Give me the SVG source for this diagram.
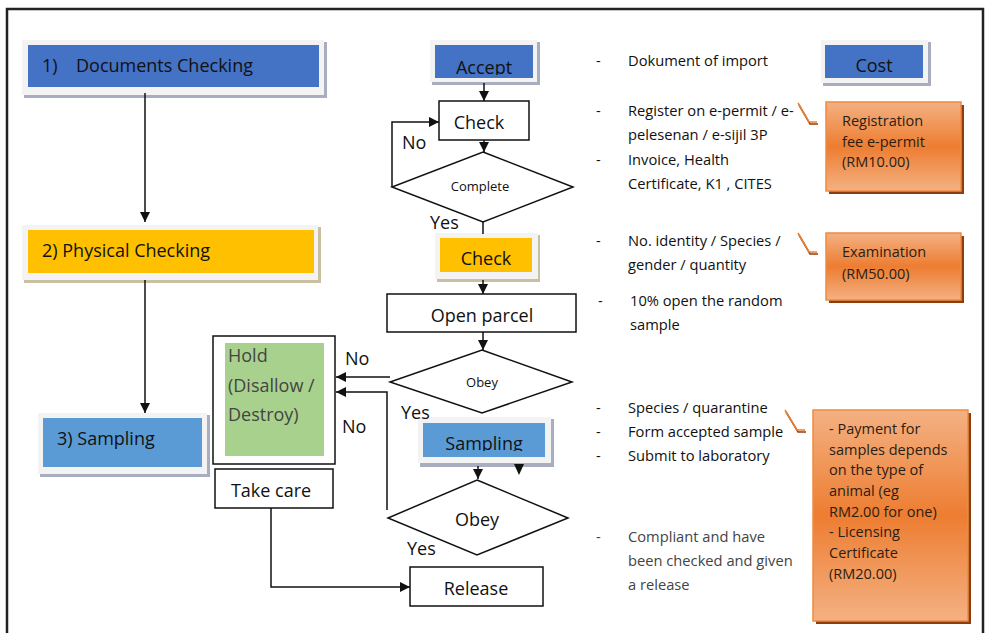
<svg xmlns="http://www.w3.org/2000/svg" width="990" height="633" viewBox="0 0 990 633">
<style>
text{font-family:"Open Sans","Liberation Sans",sans-serif;fill:#111}
.lbl{font-size:18px}
.sm{font-size:13px}
.note{font-size:14.7px}
.gray{fill:#444}
.box{fill:#fff;stroke:#111;stroke-width:1.5}
.frm{fill:#f3f3f3}
.shd{fill:#a8adbf}
.con{fill:none;stroke:#111;stroke-width:1.5}
.orng{fill:url(#og);stroke:#f08a42;stroke-width:1.5}
.osh{fill:#8a3f10}
.call{fill:none;stroke:#ed7d31;stroke-width:1.5}
.calls{fill:none;stroke:#8a3f10;stroke-width:1.5}
.otx{font-size:14.5px;fill:#2b1d12}
</style>
<defs>
<marker id="ah" markerUnits="userSpaceOnUse" markerWidth="10" markerHeight="10" refX="10" refY="5" orient="auto">
<path d="M0,0 L10,5 L0,10 z" fill="#111"/>
</marker>
<linearGradient id="og" x1="0" y1="0" x2="0" y2="1">
<stop offset="0" stop-color="#f4b183"/>
<stop offset="0.5" stop-color="#ed7d31"/>
<stop offset="1" stop-color="#f4b183"/>
</linearGradient>
<clipPath id="clipAccept"><rect x="435" y="45" width="98" height="30"/></clipPath>
<clipPath id="clipSamp"><rect x="423" y="423" width="122" height="28"/></clipPath>
</defs>
<rect x="0" y="0" width="990" height="633" fill="#fff"/>
<path d="M7,640 V9 H983 V640" fill="none" stroke="#222" stroke-width="2.5"/>

<g id="documents-checking">
<rect class="shd" x="24" y="42" width="303" height="56"/>
<rect class="frm" x="22" y="40" width="302" height="55"/>
<rect x="28" y="45" width="291" height="42" fill="#4472c4"/>
<text class="lbl" x="42" y="72">1)</text>
<text class="lbl" x="76" y="72">Documents Checking</text>
</g>
<g id="physical-checking">
<rect x="24" y="227" width="297" height="56" fill="#c8c0a0"/>
<rect class="frm" x="22" y="225" width="296" height="55"/>
<rect x="28" y="230" width="286" height="43" fill="#ffc000"/>
<text class="lbl" x="42" y="257">2) Physical Checking</text>
</g>
<g id="sampling-stage">
<rect class="shd" x="40" y="415" width="170" height="62"/>
<rect class="frm" x="38" y="413" width="169" height="61"/>
<rect x="43" y="418" width="159" height="49" fill="#5b9bd5"/>
<text class="lbl" x="57" y="445">3) Sampling</text>
</g>

<g id="accept">
<rect class="shd" x="432" y="42" width="108" height="43"/>
<rect class="frm" x="430" y="40" width="107" height="42"/>
<rect x="435" y="45" width="98" height="33" fill="#4472c4"/>
<text class="lbl" x="484" y="74" text-anchor="middle" clip-path="url(#clipAccept)">Accept</text>
</g>
<g id="check-docs">
<rect class="box" x="439" y="101" width="90" height="39"/>
<text class="lbl" x="479" y="129" text-anchor="middle">Check</text>
</g>
<g id="complete">
<polygon class="box" points="483,152 573,187 483,222 392,187"/>
<text class="sm" x="480" y="191" text-anchor="middle">Complete</text>
</g>
<g id="check-physical">
<rect x="437" y="235" width="103" height="47" fill="#c8c0a0"/>
<rect class="frm" x="435" y="233" width="103" height="46"/>
<rect x="440" y="238" width="92" height="34" fill="#ffc000"/>
<text class="lbl" x="486" y="265" text-anchor="middle">Check</text>
</g>
<g id="open-parcel">
<rect class="box" x="387" y="294" width="189" height="38"/>
<text class="lbl" x="482" y="322" text-anchor="middle">Open parcel</text>
</g>
<g id="obey-1">
<polygon class="box" points="482,350 572,382 482,413 390,382"/>
<text class="sm" x="482" y="387" text-anchor="middle">Obey</text>
</g>
<g id="sampling">
<rect class="shd" x="420" y="419" width="134" height="48"/>
<rect class="frm" x="418" y="417" width="133" height="46"/>
<rect x="423" y="423" width="122" height="34" fill="#5b9bd5"/>
<text class="lbl" x="484" y="450" text-anchor="middle" clip-path="url(#clipSamp)">Sampling</text>
</g>
<g id="obey-2">
<polygon class="box" points="477,480 568,518 477,555 388,518"/>
<text class="lbl" x="477" y="526" text-anchor="middle">Obey</text>
</g>
<g id="hold">
<rect class="box" x="213" y="336" width="122" height="128"/>
<rect x="225" y="343" width="99" height="113" fill="#a9d18e"/>
<text class="lbl gray" x="228" y="362">Hold</text>
<text class="lbl gray" x="228" y="392">(Disallow /</text>
<text class="lbl gray" x="228" y="421">Destroy)</text>
</g>
<g id="take-care">
<rect class="box" x="215" y="469" width="118" height="39"/>
<text class="lbl" x="271" y="497" text-anchor="middle">Take care</text>
</g>
<g id="release">
<rect class="box" x="410" y="567" width="133" height="39"/>
<text class="lbl" x="476" y="595" text-anchor="middle">Release</text>
</g>

<g id="cost">
<rect class="shd" x="823" y="42" width="108" height="44"/>
<rect class="frm" x="821" y="40" width="107" height="43"/>
<rect x="825" y="45" width="98" height="33" fill="#4472c4"/>
<text class="lbl" x="874" y="72" text-anchor="middle">Cost</text>
</g>
<g id="fee-registration">
<rect class="osh" x="829" y="105" width="135" height="89"/>
<rect class="orng" x="826" y="102" width="135" height="89"/>
<text class="otx" x="842" y="126">Registration</text>
<text class="otx" x="842" y="147">fee e-permit</text>
<text class="otx" x="842" y="167">(RM10.00)</text>
<path class="calls" d="M799,105 L810,124 H818"/>
<path class="call" d="M798,103 L809,122 H817"/>
</g>
<g id="fee-examination">
<rect class="osh" x="829" y="236" width="135" height="67"/>
<rect class="orng" x="826" y="233" width="135" height="67"/>
<text class="otx" x="842" y="257">Examination</text>
<text class="otx" x="842" y="279">(RM50.00)</text>
<path class="calls" d="M799,235 L810,254 H818"/>
<path class="call" d="M798,233 L809,252 H817"/>
</g>
<g id="fee-sampling">
<rect class="osh" x="816" y="413" width="155" height="211"/>
<rect class="orng" x="813" y="410" width="155" height="211"/>
<text class="otx" x="829" y="434">- Payment for</text>
<text class="otx" x="829" y="455">samples depends</text>
<text class="otx" x="829" y="475">on the type of</text>
<text class="otx" x="829" y="496">animal (eg</text>
<text class="otx" x="829" y="517">RM2.00 for one)</text>
<text class="otx" x="829" y="537">- Licensing</text>
<text class="otx" x="829" y="558">Certificate</text>
<text class="otx" x="829" y="579">(RM20.00)</text>
<path class="calls" d="M786,412 L798,432 H806"/>
<path class="call" d="M785,410 L797,430 H805"/>
</g>

<g id="notes">
<text class="note" x="596" y="66">-</text><text class="note" x="628" y="66">Dokument of import</text>
<text class="note" x="596" y="116">-</text><text class="note" x="628" y="116">Register on e-permit / e-</text>
<text class="note" x="628" y="140">pelesenan / e-sijil 3P</text>
<text class="note" x="596" y="165">-</text><text class="note" x="628" y="165">Invoice, Health</text>
<text class="note" x="628" y="189">Certificate, K1 , CITES</text>
<text class="note" x="596" y="246">-</text><text class="note" x="628" y="246">No. identity / Species /</text>
<text class="note" x="628" y="270">gender / quantity</text>
<text class="note" x="598" y="306">-</text><text class="note" x="630" y="306">10% open the random</text>
<text class="note" x="630" y="330">sample</text>
<text class="note" x="596" y="413">-</text><text class="note" x="628" y="413">Species / quarantine</text>
<text class="note" x="596" y="437">-</text><text class="note" x="628" y="437">Form accepted sample</text>
<text class="note" x="596" y="461">-</text><text class="note" x="628" y="461">Submit to laboratory</text>
<text class="note gray" x="596" y="542">-</text><text class="note gray" x="628" y="542">Compliant and have</text>
<text class="note gray" x="628" y="566">been checked and given</text>
<text class="note gray" x="628" y="590">a release</text>
</g>

<g id="connectors">
<line class="con" x1="145" y1="93" x2="145" y2="222" marker-end="url(#ah)"/>
<line class="con" x1="145" y1="280" x2="145" y2="413" marker-end="url(#ah)"/>
<line class="con" x1="484" y1="83" x2="484" y2="101" marker-end="url(#ah)"/>
<line class="con" x1="484" y1="140" x2="484" y2="152" marker-end="url(#ah)"/>
<polyline class="con" points="392,187 392,122 439,122" marker-end="url(#ah)"/>
<line class="con" x1="483" y1="222" x2="483" y2="234"/>
<line class="con" x1="483" y1="280" x2="483" y2="294" marker-end="url(#ah)"/>
<line class="con" x1="483" y1="332" x2="483" y2="350" marker-end="url(#ah)"/>
<line class="con" x1="390" y1="377" x2="336" y2="377" marker-end="url(#ah)"/>
<polyline class="con" points="387,510 387,392 336,392" marker-end="url(#ah)"/>
<line class="con" x1="478" y1="466" x2="478" y2="479" marker-end="url(#ah)"/>
<path d="M514,464 L524,464 L519,475 z" fill="#111"/>
<polyline class="con" points="271,508 271,587 410,587" marker-end="url(#ah)"/>
<text class="lbl" x="402" y="149">No</text>
<text class="lbl" x="430" y="229">Yes</text>
<text class="lbl" x="345" y="365">No</text>
<text class="lbl" x="401" y="419">Yes</text>
<text class="lbl" x="342" y="433">No</text>
<text class="lbl" x="407" y="555">Yes</text>
</g>
</svg>
